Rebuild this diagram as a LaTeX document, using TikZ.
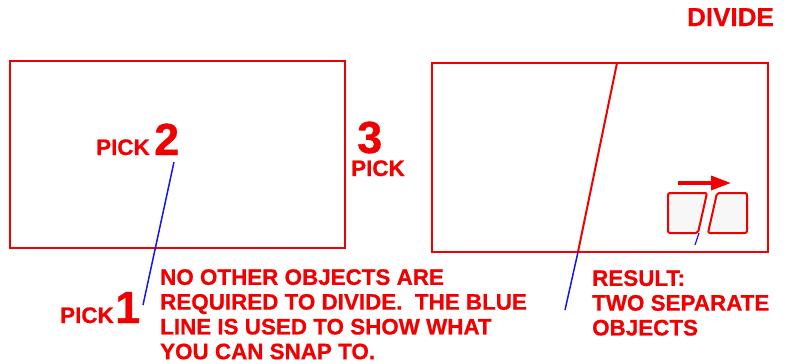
\documentclass[tikz,border=0pt]{standalone}
\usepackage{fontspec}
\setmainfont{Liberation Sans}
\newfontfamily\heavy{Liberation Sans Bold}[FakeBold=0.8]
\usetikzlibrary{arrows.meta}
\definecolor{tred}{RGB}{240,0,0}
\definecolor{tblue}{RGB}{20,20,235}
\tikzset{
  lbl/.style={text=tred, font=\heavy\fontsize{22.4}{24.8}\selectfont, inner sep=0pt},
  num/.style={text=tred, font=\heavy\fontsize{45}{45}\selectfont, inner sep=0pt, text depth=0pt},
  frame/.style={draw=tred, line width=2.4pt},
  snap/.style={draw=tblue, line width=1.5pt},
  cut/.style={draw=tred, line width=2pt},
  piece/.style={draw=tred, line width=2pt, fill=black!3, rounded corners=2pt}
}
\begin{document}
\begin{tikzpicture}[x=1pt,y=-1pt]
\useasboundingbox (0,0) rectangle (788,364);
% frames
\draw[frame] (10,61) rectangle (345,248);
\draw[frame] (432,63) rectangle (768,252);
% title
\node[lbl, font=\heavy\fontsize{26}{26}\selectfont, anchor=base east] (title) at (774,26) {DIVIDE};
% picks
\node[lbl, anchor=base west] (pick2t) at (96,155) {PICK};
\node[num, anchor=base west] (pick2n) at (154,155) {2};
\node[num, anchor=base west] (pick3n) at (357,153) {3};
\node[lbl, anchor=base west] (pick3t) at (351,176) {PICK};
\node[lbl, anchor=base west] (pick1t) at (60,323) {PICK};
\node[num, anchor=base west] (pick1n) at (115,323) {1};
% blue snap line left
\coordinate (p2) at (174,162);
\coordinate (p1) at (143,305);
\draw[snap] (p2) -- (p1);
% right: cut line
\coordinate (ct) at (617,63);
\coordinate (cb) at (578,252);
\coordinate (ce) at (565,310);
\draw[snap] (cb) -- (ce);
\draw[cut] (ct) -- (cb);
% texts
\node[lbl, anchor=north west, align=left] (note) at (160,269) {NO OTHER OBJECTS ARE\\REQUIRED TO DIVIDE.\ \ THE BLUE\\LINE IS USED TO SHOW WHAT\\YOU CAN SNAP TO.};
\node[lbl, anchor=north west, align=left] (result) at (592,270) {RESULT:\\TWO SEPARATE\\OBJECTS};
% icon
\draw[piece] (668,193) -- (707,193) -- (698,233) -- (668,233) -- cycle;
\draw[piece] (717,193) -- (747,193) -- (747,233) -- (708,233) -- cycle;
\coordinate (it) at (699,233);
\coordinate (ib) at (695,245);
\draw[snap, line width=1.2pt] (it) -- (ib);
\coordinate (as) at (678,183);
\coordinate (ae) at (731,183);
\draw[draw=tred, line width=3.5pt, -{Triangle[length=20pt,width=14pt]}] (as) -- (ae);
\end{tikzpicture}
\end{document}
